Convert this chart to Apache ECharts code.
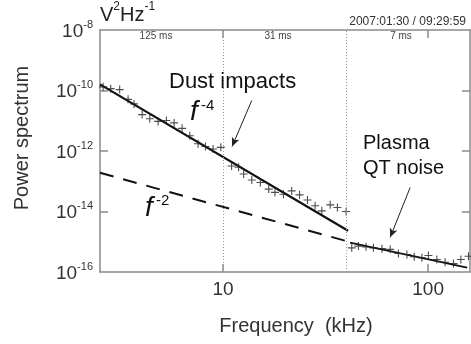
<!DOCTYPE html>
<html><head><meta charset="utf-8">
<script src="https://cdn.jsdelivr.net/npm/echarts@6/dist/echarts.min.js"></script>
<style>html,body{margin:0;padding:0;background:#fff}#c{width:471px;height:344px}</style>
</head><body><div id="c"></div>
<script>
// ---- data (frequency in kHz, power spectrum in V^2/Hz) ----
const freqDust1 = [2.60, 2.83, 3.13, 3.44, 3.68, 4.03, 4.39, 4.82, 5.29, 5.77, 6.31, 6.88, 7.55, 8.20, 8.94, 9.75];
const powDust1  = [1.32e-10, 1.15e-10, 1.07e-10, 5.1e-11, 3.6e-11, 1.6e-11, 1.17e-11, 9.5e-12, 1.02e-11, 8.5e-12, 5.6e-12, 3.2e-12, 1.74e-12, 1.41e-12, 1.17e-12, 1.32e-12];
const freqDust2 = [11.0, 11.9, 12.6, 13.8, 15.2, 16.7, 17.9, 19.7, 21.6, 23.6, 25.8, 28.1, 30.3, 33.3, 36.1, 39.8];
const powDust2  = [3.2e-13, 2.9e-13, 1.74e-13, 1.10e-13, 9.1e-14, 5.5e-14, 4.3e-14, 3.7e-14, 4.8e-14, 3.55e-14, 2.4e-14, 1.55e-14, 1.05e-14, 1.66e-14, 1.35e-14, 1.0e-14];
const freqQT = [42.4, 45.7, 49.8, 54.1, 59.5, 65.3, 71.6, 78.8, 85.5, 93.2, 100.3, 110.3, 121.0, 132.9, 144.4, 157.3];
const powQT  = [6.3e-16, 7.2e-16, 6.8e-16, 6.3e-16, 5.9e-16, 5.6e-16, 4.1e-16, 3.8e-16, 3.2e-16, 2.95e-16, 3.5e-16, 2.6e-16, 2.1e-16, 1.9e-16, 2.6e-16, 3.3e-16];
const fitF4Freq = [2.51, 40.7];
const fitF4Pow  = [1.6e-10, 2.3e-15];
const fitF2Freq = [2.51, 40];
const fitF2Pow  = [1.9e-13, 1.05e-15];
const fitQTFreq = [41.6, 155];
const fitQTPow  = [9.3e-16, 1.4e-16];
const xTickValues = [10, 100];
const yLabelValues = [1e-16, 1e-14, 1e-12, 1e-10, 1e-8];
const yTickValues = [1e-14, 1e-12, 1e-10];
const bandLimits = [10, 40];
const bandLabels = ['125 ms', '31 ms', '7 ms'];
const xRange = [2.51, 160];
const yRange = [1e-16, 1e-8];

const FONT = "'Liberation Sans', Arial, sans-serif";
const AX = '#8a8a8a';
const pts = (xs, ys) => xs.map((x, i) => [x, ys[i]]);
const plus = 'path://M4.3,0H5.7V4.3H10V5.7H5.7V10H4.3V5.7H0V4.3H4.3Z';

const expFmt = v => '{b|10}{s|' + Math.round(Math.log10(v)) + '}';
const labelRich = {
  b: {fontSize: 19, fontFamily: FONT, color: '#333', lineHeight: 22, verticalAlign: 'bottom'},
  s: {fontSize: 11, fontFamily: FONT, color: '#333', lineHeight: 12, verticalAlign: 'top'}
};

const baseX = {
  type: 'log', min: xRange[0], max: xRange[1],
  axisLine: {show: true, lineStyle: {color: AX, width: 1.5}},
  axisTick: {show: true, inside: true, length: 8, customValues: xTickValues, lineStyle: {color: AX, width: 1.5}},
  splitLine: {show: false}, minorTick: {show: false}
};
const baseY = {
  type: 'log', min: yRange[0], max: yRange[1],
  axisLine: {show: true, lineStyle: {color: AX, width: 1.5}},
  axisTick: {show: true, inside: true, length: 8, customValues: yTickValues, lineStyle: {color: AX, width: 1.5}},
  splitLine: {show: false}, minorTick: {show: false}
};

const chart = echarts.init(document.getElementById('c'), null, {renderer: 'canvas'});
chart.setOption({
  animation: false,
  backgroundColor: '#fff',
  grid: {left: 100, right: 1, top: 30, bottom: 72},
  xAxis: [
    Object.assign({}, baseX, {position: 'bottom',
      axisLabel: {show: true, customValues: xTickValues, margin: 8, fontSize: 19, fontFamily: FONT, color: '#333'}}),
    Object.assign({}, baseX, {position: 'top', axisLabel: {show: false}})
  ],
  yAxis: [
    Object.assign({}, baseY, {position: 'left',
      axisLabel: {show: true, customValues: yLabelValues, margin: 7, formatter: expFmt, rich: labelRich}}),
    Object.assign({}, baseY, {position: 'right', axisLabel: {show: false}})
  ],
  series: [
    {type: 'line', data: pts(fitF2Freq, fitF2Pow), symbol: 'none', z: 2,
     lineStyle: {color: '#111', width: 2, type: [14, 10]},
     markLine: {silent: true, symbol: 'none', label: {show: false},
       lineStyle: {color: '#9a9a9a', width: 1, type: [1, 2]},
       data: bandLimits.map(v => ({xAxis: v}))}},
    {type: 'line', data: pts(fitF4Freq, fitF4Pow), symbol: 'none', z: 3,
     lineStyle: {color: '#111', width: 2.2}},
    {type: 'line', data: pts(fitQTFreq, fitQTPow), symbol: 'none', z: 3,
     lineStyle: {color: '#111', width: 1.8},
     markLine: {silent: true, symbol: ['none', 'arrow'], symbolSize: [6, 9], label: {show: false},
       lineStyle: {color: '#222', width: 1, type: 'solid'},
       data: [
         [{coord: [13.8, 4.7e-11]}, {coord: [11.06, 1.4e-12]}],
         [{coord: [81.7, 6.2e-14]}, {coord: [65.3, 1.4e-15]}]
       ]}},
    {type: 'scatter', data: pts(freqDust1, powDust1), symbol: plus, symbolSize: 8, z: 4, itemStyle: {color: '#222'}},
    {type: 'scatter', data: pts(freqDust2, powDust2), symbol: plus, symbolSize: 8, z: 4, itemStyle: {color: '#222'}},
    {type: 'scatter', data: pts(freqQT, powQT), symbol: plus, symbolSize: 8, z: 4, itemStyle: {color: '#222'}}
  ],
  graphic: [
    {type: 'text', left: 100, top: 1, style: {text: '{b|V}{s|2}{b|Hz}{s|-1}',
      rich: {b: {fontSize: 20, fontFamily: FONT, fill: '#222', lineHeight: 24, verticalAlign: 'bottom'},
             s: {fontSize: 12, fontFamily: FONT, fill: '#222', lineHeight: 14, verticalAlign: 'top'}}}},
    {type: 'text', x: 22, y: 138, rotation: Math.PI / 2,
      style: {text: 'Power spectrum', fontSize: 20, fontFamily: FONT, fill: '#333', align: 'center', verticalAlign: 'middle'}},
    {type: 'text', x: 296, y: 326,
      style: {text: 'Frequency  (kHz)', fontSize: 20, fontFamily: FONT, fill: '#333', align: 'center', verticalAlign: 'middle'}},
    {type: 'text', x: 466, y: 22,
      style: {text: '2007:01:30 / 09:29:59', fontSize: 12, fontFamily: FONT, fill: '#333', align: 'right', verticalAlign: 'middle'}},
    {type: 'text', x: 156, y: 36, style: {text: bandLabels[0], fontSize: 10, fontFamily: FONT, fill: '#444', align: 'center', verticalAlign: 'middle'}},
    {type: 'text', x: 278, y: 36, style: {text: bandLabels[1], fontSize: 10, fontFamily: FONT, fill: '#444', align: 'center', verticalAlign: 'middle'}},
    {type: 'text', x: 401, y: 36, style: {text: bandLabels[2], fontSize: 10, fontFamily: FONT, fill: '#444', align: 'center', verticalAlign: 'middle'}},
    {type: 'text', x: 169, y: 82, style: {text: 'Dust impacts', fontSize: 22, fontFamily: FONT, fill: '#111', align: 'left', verticalAlign: 'middle'}},
    {type: 'text', x: 190, y: 112, style: {text: 'f', fontSize: 28, fontStyle: 'italic', fontFamily: FONT, fill: '#111', align: 'left', verticalAlign: 'middle'}},
    {type: 'text', x: 201, y: 106, style: {text: '-4', fontSize: 15, fontFamily: FONT, fill: '#111', align: 'left', verticalAlign: 'middle'}},
    {type: 'text', x: 145, y: 208, style: {text: 'f', fontSize: 28, fontStyle: 'italic', fontFamily: FONT, fill: '#111', align: 'left', verticalAlign: 'middle'}},
    {type: 'text', x: 156, y: 201, style: {text: '-2', fontSize: 15, fontFamily: FONT, fill: '#111', align: 'left', verticalAlign: 'middle'}},
    {type: 'text', x: 363, y: 143, style: {text: 'Plasma', fontSize: 20, fontFamily: FONT, fill: '#111', align: 'left', verticalAlign: 'middle'}},
    {type: 'text', x: 363, y: 168, style: {text: 'QT noise', fontSize: 20, fontFamily: FONT, fill: '#111', align: 'left', verticalAlign: 'middle'}}
  ]
});
</script>
</body></html>
